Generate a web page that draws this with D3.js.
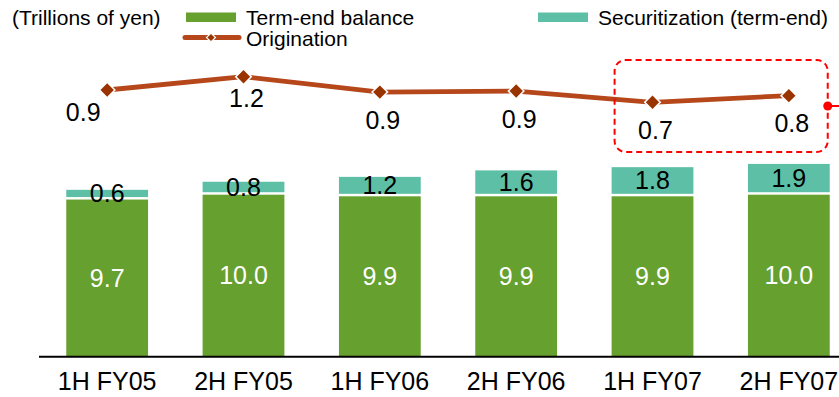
<!DOCTYPE html>
<html>
<head>
<meta charset="utf-8">
<script src="https://cdn.jsdelivr.net/npm/d3@7"></script>
<style>
  html, body { margin: 0; padding: 0; background: #fff; }
  svg { display: block; font-family: "Liberation Sans", Arial, sans-serif; }
</style>
</head>
<body>
<svg id="chart" width="839" height="397"></svg>
<script>
// ---- Data ----
const categories = ["1H FY05", "2H FY05", "1H FY06", "2H FY06", "1H FY07", "2H FY07"];
const balance = [9.7, 10.0, 9.9, 9.9, 9.9, 10.0];
const securitization = [0.6, 0.8, 1.2, 1.6, 1.8, 1.9];
const origination = [0.94, 1.2, 0.9, 0.92, 0.7, 0.83];
const unitLabel = "(Trillions of yen)";
const seriesNames = ["Term-end balance", "Securitization (term-end)", "Origination"];

// ---- Styles ----
const GREEN = "#66a02e";
const TEAL = "#5dbfa6";
const LINE = "#b5471b";
const MARK = "#993300";
const RED = "#ff0000";

const svg = d3.select("#chart");
const W = 839, H = 397;

const x = d3.scaleBand().domain(categories).range([39, 857]).paddingInner(0.4).paddingOuter(0.2);
const yBar = d3.scaleLinear().domain([0, 12]).range([356.7, 162.3]);
const yLine = d3.scaleLinear().domain([0.7, 1.2]).range([102.3, 76.7]);
const bw = x.bandwidth();
const cx = c => x(c) + bw / 2;

// ---- Bars ----
const barG = svg.append("g");
categories.forEach((c, i) => {
  const b = balance[i], s = securitization[i];
  barG.append("rect")
    .attr("x", x(c)).attr("width", bw)
    .attr("y", yBar(b)).attr("height", yBar(0) - yBar(b))
    .attr("fill", GREEN);
  barG.append("rect")
    .attr("x", x(c)).attr("width", bw)
    .attr("y", yBar(b + s)).attr("height", Math.max(0, yBar(b) - yBar(b + s) - 2.5))
    .attr("fill", TEAL);
  barG.append("text")
    .attr("x", cx(c)).attr("y", (yBar(b) + yBar(0)) / 2)
    .attr("dy", "0.35em").attr("text-anchor", "middle")
    .attr("font-size", 25).attr("fill", "#fff")
    .text(b.toFixed(1));
  barG.append("text")
    .attr("x", cx(c)).attr("y", (yBar(b + s) + yBar(b)) / 2 - 1)
    .attr("dy", "0.35em").attr("text-anchor", "middle")
    .attr("font-size", 25).attr("fill", "#000")
    .text(s.toFixed(1));
});

// ---- X axis ----
const xAxis = d3.axisBottom(x).tickSize(0).tickPadding(16);
const axG = svg.append("g").attr("transform", `translate(0,${yBar(0)})`).call(xAxis);
axG.select(".domain").attr("stroke", "#000").attr("stroke-width", 2).attr("d", `M39,0H${W}`);
axG.selectAll("text").attr("font-size", 25).attr("fill", "#000").attr("font-family", "Liberation Sans, Arial, sans-serif");

// ---- Origination line ----
const line = d3.line().x((d, i) => cx(categories[i])).y(d => yLine(d));
svg.append("path").datum(origination)
  .attr("d", line).attr("fill", "none")
  .attr("stroke", LINE).attr("stroke-width", 4.8);
svg.append("g").selectAll("path").data(origination).join("path")
  .attr("transform", (d, i) => `translate(${cx(categories[i])},${yLine(d)}) rotate(45)`)
  .attr("d", d3.symbol().type(d3.symbolSquare).size(120))
  .attr("fill", MARK).attr("stroke", "#fff").attr("stroke-width", 1.5);
svg.append("g").selectAll("text").data(origination).join("text")
  .attr("x", (d, i) => cx(categories[i]) + (i === 0 ? -24 : 3))
  .attr("y", (d, i) => yLine(d) + (i < 2 ? 22 : 28))
  .attr("dy", "0.35em").attr("text-anchor", "middle")
  .attr("font-size", 25).attr("fill", "#000")
  .text(d => d.toFixed(1));

// ---- Annotation (dashed rounded box + marker) ----
const boxL = x(categories[4]) + 3, boxR = x(categories[5]) + bw - 2;
svg.append("rect")
  .attr("x", boxL).attr("y", 60).attr("width", boxR - boxL).attr("height", 92)
  .attr("rx", 11).attr("ry", 11)
  .attr("fill", "none").attr("stroke", RED).attr("stroke-width", 2)
  .attr("stroke-dasharray", "6,4");
svg.append("line").attr("x1", boxR).attr("x2", W).attr("y1", 106).attr("y2", 106)
  .attr("stroke", RED).attr("stroke-width", 2);
svg.append("circle").attr("cx", boxR).attr("cy", 106).attr("r", 4.5).attr("fill", RED);

// ---- Legend ----
const lg = svg.append("g");
lg.append("text").attr("x", 12).attr("y", 25).attr("font-size", 21).text(unitLabel);
lg.append("rect").attr("x", 186).attr("y", 12.5).attr("width", 50).attr("height", 9.5).attr("fill", GREEN);
lg.append("text").attr("x", 246).attr("y", 25).attr("font-size", 21).text(seriesNames[0]);
lg.append("rect").attr("x", 538).attr("y", 12.5).attr("width", 50).attr("height", 9.5).attr("fill", TEAL);
lg.append("text").attr("x", 598).attr("y", 25).attr("font-size", 21).text(seriesNames[1]);
lg.append("line").attr("x1", 185).attr("x2", 239).attr("y1", 37.5).attr("y2", 37.5)
  .attr("stroke", LINE).attr("stroke-width", 5).attr("stroke-linecap", "round");
lg.append("path").attr("transform", "translate(211,37.5) rotate(45)")
  .attr("d", d3.symbol().type(d3.symbolSquare).size(40))
  .attr("fill", MARK).attr("stroke", "#fff").attr("stroke-width", 1.2);
lg.append("text").attr("x", 246).attr("y", 46).attr("font-size", 21).text(seriesNames[2]);
</script>
</body>
</html>
